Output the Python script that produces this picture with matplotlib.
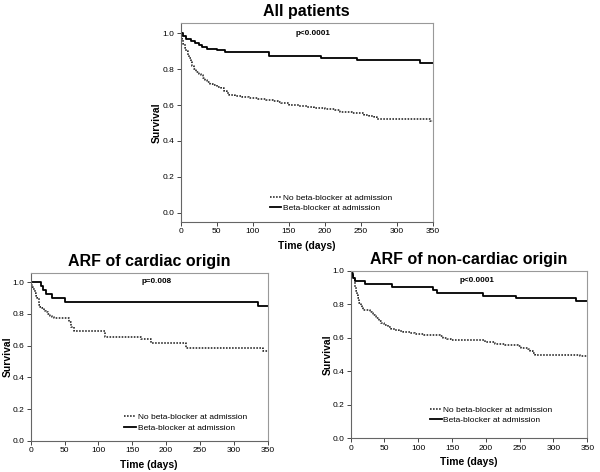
import matplotlib
matplotlib.use("Agg")
import matplotlib.pyplot as plt

plt.rcParams["font.family"] = ["Liberation Sans", "DejaVu Sans"]

# ---- data (time in days, survival) ----
all_nobb_t = [0, 2, 4, 6, 8, 10, 12, 14, 16, 18, 21, 25, 28, 31, 34, 37, 41, 45, 50, 56,
              60, 64, 67, 75, 85, 95, 108, 118, 128, 135, 140, 150, 165, 175, 185, 200,
              215, 222, 238, 248, 255, 262, 268, 273, 340, 346]
all_nobb_s = [1.0, 0.97, 0.94, 0.92, 0.90, 0.88, 0.86, 0.84, 0.815, 0.80, 0.785, 0.775,
              0.765, 0.75, 0.74, 0.73, 0.72, 0.71, 0.70, 0.695, 0.68, 0.665, 0.655, 0.65,
              0.645, 0.64, 0.635, 0.63, 0.62, 0.615, 0.61, 0.60, 0.595, 0.59, 0.582, 0.577,
              0.57, 0.563, 0.558, 0.553, 0.547, 0.54, 0.533, 0.525, 0.52, 0.51]
all_bb_t = [0, 3, 8, 14, 20, 25, 30, 37, 50, 62, 123, 195, 245, 333]
all_bb_s = [1.0, 0.985, 0.97, 0.955, 0.945, 0.935, 0.925, 0.915, 0.905, 0.893, 0.873,
            0.862, 0.851, 0.833]

card_nobb_t = [0, 1, 2, 4, 6, 8, 10, 12, 14, 16, 19, 22, 25, 28, 31, 34, 57, 60, 64,
               110, 163, 178, 230, 343]
card_nobb_s = [1.0, 0.985, 0.97, 0.955, 0.93, 0.915, 0.90, 0.857, 0.845, 0.835, 0.82,
               0.81, 0.80, 0.79, 0.783, 0.773, 0.752, 0.72, 0.69, 0.655, 0.64, 0.62,
               0.585, 0.565]
card_bb_t = [0, 15, 18, 23, 31, 50, 335]
card_bb_s = [1.0, 0.975, 0.95, 0.925, 0.90, 0.875, 0.85]

nonc_nobb_t = [0, 2, 3, 5, 6, 7, 8, 10, 11, 12, 13, 15, 16, 18, 28, 31, 33, 36, 38, 42,
               45, 50, 55, 60, 65, 72, 77, 88, 95, 109, 132, 137, 142, 149, 198, 213,
               228, 248, 252, 262, 265, 270, 273, 339]
nonc_nobb_s = [1.0, 0.985, 0.966, 0.945, 0.926, 0.90, 0.877, 0.855, 0.837, 0.82, 0.807,
               0.79, 0.777, 0.767, 0.755, 0.745, 0.737, 0.728, 0.718, 0.70, 0.688, 0.675,
               0.664, 0.655, 0.648, 0.64, 0.634, 0.628, 0.624, 0.618, 0.61, 0.60, 0.592,
               0.584, 0.577, 0.565, 0.557, 0.548, 0.539, 0.53, 0.519, 0.51, 0.50, 0.489]
nonc_bb_t = [0, 2, 4, 6, 21, 61, 122, 128, 196, 245, 333]
nonc_bb_s = [1.0, 0.98, 0.956, 0.94, 0.92, 0.904, 0.885, 0.87, 0.852, 0.837, 0.818]

T_END = 350
labels = ["No beta-blocker at admission", "Beta-blocker at admission"]
xticks = [0, 50, 100, 150, 200, 250, 300, 350]
yticks = [0.0, 0.2, 0.4, 0.6, 0.8, 1.0]

panels = [
    dict(title="All patients", p="p<0.0001", nobb=(all_nobb_t, all_nobb_s),
         bb=(all_bb_t, all_bb_s), rect=[0.301, 0.5303, 0.42, 0.4216],
         ylim=(-0.05, 1.059), ptxt=(0.526, 0.948), leg=(0.33, 0.02)),
    dict(title="ARF of cardiac origin", p="p=0.008", nobb=(card_nobb_t, card_nobb_s),
         bb=(card_bb_t, card_bb_s), rect=[0.0512, 0.0663, 0.395, 0.3547],
         ylim=(0.0, 1.057), ptxt=(0.532, 0.95), leg=(0.37, 0.02)),
    dict(title="ARF of non-cardiac origin", p="p<0.0001", nobb=(nonc_nobb_t, nonc_nobb_s),
         bb=(nonc_bb_t, nonc_bb_s), rect=[0.5845, 0.0714, 0.3943, 0.355],
         ylim=(0.0, 1.0), ptxt=(0.533, 0.94), leg=(0.31, 0.05)),
]

fig = plt.figure(figsize=(6.0, 4.72), dpi=100)
for pn in panels:
    ax = fig.add_axes(pn["rect"])
    t, s = pn["nobb"]
    ax.step(list(t) + [T_END], list(s) + [s[-1]], where="post", color="#222222",
            lw=1.15, ls=(0, (1, 0.9)), label=labels[0])
    t, s = pn["bb"]
    ax.step(list(t) + [T_END], list(s) + [s[-1]], where="post", color="black",
            lw=1.3, label=labels[1])
    ax.set_xlim(0, T_END); ax.set_ylim(*pn["ylim"])
    ax.set_xticks(xticks); ax.set_yticks(yticks)
    ax.set_yticklabels([f"{v:.1f}" for v in yticks])
    ax.tick_params(labelsize=6, length=3, width=0.7, pad=1.5, color="#444444")
    for side, sp in ax.spines.items():
        sp.set_linewidth(0.8)
        sp.set_color("#666666" if side in ("left", "bottom") else "#999999")
    ax.set_title(pn["title"], fontsize=11.5, fontweight="bold", pad=5)
    ax.set_xlabel("Time (days)", fontsize=7.5, fontweight="bold", labelpad=4)
    ax.set_ylabel("Survival", fontsize=7.5, fontweight="bold")
    ax.yaxis.set_label_coords(-0.074, 0.5)
    ax.text(*pn["ptxt"], pn["p"], transform=ax.transAxes, ha="center", va="center",
            fontsize=5.8, fontweight="bold")
    ax.legend(loc="lower left", bbox_to_anchor=pn["leg"], frameon=False, fontsize=6,
              handlelength=1.4, handletextpad=0.2, labelspacing=0.3, borderpad=0.2)

fig.savefig("out.png", dpi=100)
